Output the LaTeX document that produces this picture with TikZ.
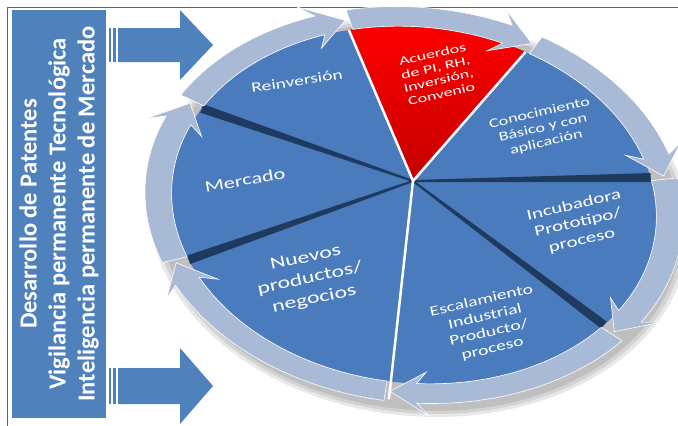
\documentclass[tikz,border=0pt]{standalone}
\usepackage{fontspec}
\usetikzlibrary{calc}
\setmainfont{Carlito}
\definecolor{boxblue}{HTML}{4F81BD}
\definecolor{sectorblue}{HTML}{4A7CBD}
\definecolor{ringblue}{HTML}{A8BAD6}
\definecolor{edgenavy}{HTML}{1F3A5F}
\definecolor{accred}{HTML}{E80000}
\definecolor{framegray}{HTML}{5A6470}

% disc radii (parametric ellipse)
\def\ea{243}\def\eb{178}
% one curved ring arrow from parameter #1 to #2 (clockwise), head at #2
\newcommand\ringarrow[2]{%
  \fill[ringblue, draw=white, line width=0.6pt]
    ({#1+1}:{\ea} and {\eb})
    arc[start angle={#1+1}, end angle={#2-6}, x radius={\ea}, y radius={\eb}]
    -- ({#2-8.5}:{0.935*\ea} and {0.935*\eb})
    -- ({#2}:{1.055*\ea} and {1.055*\eb})
    -- ({#2-8.5}:{1.18*\ea} and {1.18*\eb})
    -- ({#2-6}:{1.11*\ea} and {1.11*\eb})
    arc[start angle={#2-6}, end angle={#1+1}, x radius={1.11*\ea}, y radius={1.11*\eb}]
    -- cycle;}
% one pie sector from parameter #1 to #2
\newcommand\pieslice[3]{%
  \fill[#3] (C) -- ({#1}:{\ea} and {\eb})
    arc[start angle={#1}, end angle={#2}, x radius={\ea}, y radius={\eb}] -- cycle;}
% tapered dark edge from the hub to the rim at parameter #1
\newcommand\darkedge[1]{%
  \coordinate (rim) at ({#1}:{\ea} and {\eb});
  \fill[edgenavy] ($(C)!1pt!90:(rim)$) -- ($(rim)!4.5pt!-90:(C)$)
    -- ($(rim)!4.5pt!90:(C)$) -- ($(C)!1pt!-90:(rim)$) -- cycle;}

\tikzset{
  lbl/.style={text=white, align=center, inner sep=0pt},
  gap/.style={white, line width=2.5pt},
  bigarrow/.style={fill=boxblue},
}

\begin{document}
\begin{tikzpicture}[x=1pt,y=-1pt]
\useasboundingbox (0,0) rectangle (678,426);
\fill[white] (0,0) rectangle (678,426);

% frame
\draw[framegray, line width=0.8pt] (7,426) -- (7,7) -- (678,7);

% side panel
\fill[boxblue] (12,10) rectangle (106,418);
\node[text=white, font=\bfseries\fontsize{24.5}{29}\selectfont, rotate=90, align=center]
  (side) at (59,214) {Desarrollo de Patentes\\Vigilancia permanente Tecnológica\\Inteligencia permanente de Mercado};

% striped arrows
\fill[boxblue] (109,28) rectangle (111,62);
\fill[boxblue] (113,28) rectangle (116,62);
\fill[bigarrow] (118,28) -- (180,28) -- (180,10) -- (213,45) -- (180,80) -- (180,62) -- (118,62) -- cycle;
\fill[boxblue] (109,368) rectangle (111,404);
\fill[boxblue] (113,368) rectangle (116,404);
\fill[bigarrow] (118,368) -- (180,368) -- (180,348) -- (213,386) -- (180,424) -- (180,404) -- (118,404) -- cycle;

\coordinate (C) at (413,181);

% soft shadow under the disc, falling down and to the right
\begin{scope}[shift={(419,217)}, rotate=-6]
  \fill[black, opacity=0.09] (0,0) ellipse [x radius=271, y radius=199];
  \fill[black, opacity=0.09] (0,0) ellipse [x radius=267, y radius=196];
  \fill[black, opacity=0.09] (0,0) ellipse [x radius=263, y radius=193];
\end{scope}

\begin{scope}[shift={(414,205)}, rotate=-6]
  % sectors
  \pieslice{-110}{-67}{top color=red, bottom color=accred!85!black}
  \pieslice{-67}{-17}{sectorblue}
  \pieslice{-17}{34}{sectorblue}
  \pieslice{34}{91}{sectorblue}
  \pieslice{91}{154}{sectorblue}
  \pieslice{154}{204.5}{sectorblue}
  \pieslice{204.5}{250}{sectorblue}
  % sector edges
  \darkedge{-17}
  \darkedge{34}
  \darkedge{154}
  \darkedge{204.5}
  \draw[gap] (C) -- (-110:{\ea} and {\eb});
  \draw[gap] (C) -- (-67:{\ea} and {\eb});
  \draw[gap] (C) -- (91:{1.1*\ea} and {1.1*\eb});
  % ring of arrows
  \ringarrow{-110}{-67}
  \ringarrow{-67}{-17}
  \ringarrow{-17}{34}
  \ringarrow{34}{91}
  \ringarrow{91}{154}
  \ringarrow{154}{204.5}
  \ringarrow{204.5}{250}
\end{scope}

% sector labels
\node[lbl, font=\fontsize{14}{16}\selectfont, rotate=9, xscale=1.4] (reinv) at (297,81) {Reinversión};
\node[lbl, font=\fontsize{12}{13.5}\selectfont, rotate=13, xscale=1.5] (acuerdos) at (437,74) {Acuerdos\\de PI, RH,\\Inversión,\\Convenio};
\node[lbl, font=\fontsize{13}{15}\selectfont, rotate=13, xscale=1.4] (conoc) at (543,128) {Conocimiento\\Básico y con\\aplicación};
\node[lbl, font=\fontsize{15}{18}\selectfont, rotate=13, xscale=1.4] (incub) at (578,223) {Incubadora\\Prototipo/\\proceso};
\node[lbl, font=\fontsize{14}{16.5}\selectfont, rotate=13, xscale=1.4] (escal) at (487,325) {Escalamiento\\Industrial\\Producto/\\proceso};
\node[lbl, font=\fontsize{17}{21}\selectfont, rotate=12, xscale=1.4] (nuevos) at (310,279) {Nuevos\\productos/\\negocios};
\node[lbl, font=\fontsize{16}{18}\selectfont, rotate=10, xscale=1.4] (mercado) at (245,180) {Mercado};
\end{tikzpicture}
\end{document}
